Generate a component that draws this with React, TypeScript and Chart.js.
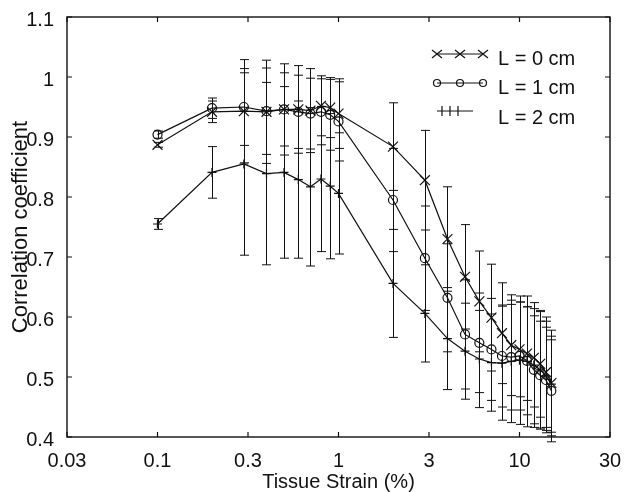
import React, { useEffect, useRef } from "react";
import { Chart, registerables } from "chart.js";

Chart.register(...registerables);

// Tissue strain (%) at which each point was measured
const STRAIN = [0.1, 0.2, 0.3, 0.4, 0.5, 0.6, 0.7, 0.8, 0.9, 1, 2, 3, 4, 5, 6, 7, 8, 9, 10, 11, 12, 13, 14, 15];

// L = 0 cm
const L0_MEAN = [0.887, 0.942, 0.943, 0.942, 0.946, 0.946, 0.944, 0.952, 0.949, 0.939, 0.884, 0.828, 0.730, 0.667, 0.626, 0.599, 0.573, 0.553, 0.546, 0.539, 0.532, 0.522, 0.508, 0.490];
const L0_ERR = [0.004, 0.018, 0.086, 0.086, 0.076, 0.073, 0.070, 0.050, 0.050, 0.058, 0.073, 0.083, 0.087, 0.087, 0.084, 0.089, 0.084, 0.084, 0.079, 0.078, 0.082, 0.089, 0.092, 0.088];

// L = 1 cm
const L1_MEAN = [0.904, 0.948, 0.950, 0.943, 0.946, 0.942, 0.939, 0.942, 0.937, 0.926, 0.795, 0.698, 0.632, 0.571, 0.557, 0.546, 0.535, 0.533, 0.535, 0.527, 0.512, 0.503, 0.495, 0.477];
const L1_ERR = [0.006, 0.017, 0.064, 0.072, 0.061, 0.061, 0.059, 0.055, 0.059, 0.066, 0.086, 0.087, 0.090, 0.091, 0.083, 0.085, 0.085, 0.088, 0.090, 0.090, 0.090, 0.090, 0.088, 0.085];

// L = 2 cm
const L2_MEAN = [0.755, 0.841, 0.855, 0.839, 0.841, 0.829, 0.817, 0.830, 0.818, 0.806, 0.656, 0.606, 0.564, 0.543, 0.530, 0.524, 0.523, 0.526, 0.528, 0.526, 0.520, 0.512, 0.502, 0.488];
const L2_ERR = [0.009, 0.043, 0.152, 0.152, 0.143, 0.131, 0.132, 0.121, 0.121, 0.101, 0.090, 0.081, 0.085, 0.080, 0.081, 0.081, 0.095, 0.102, 0.107, 0.109, 0.104, 0.097, 0.091, 0.080];

const SERIES_LABELS = ["L = 0 cm", "L = 1 cm", "L = 2 cm"];

// x ticks at half decades, labelled as in the figure
const X_TICK_EXPONENTS = [-1.5, -1, -0.5, 0, 0.5, 1, 1.5];
const X_TICK_LABELS = ["0.03", "0.1", "0.3", "1", "3", "10", "30"];
const Y_TICKS = [0.4, 0.5, 0.6, 0.7, 0.8, 0.9, 1.0, 1.1];

const X_TITLE = "Tissue Strain (%)";
const Y_TITLE = "Correlation coefficient";

const FONT = '"Liberation Sans", Arial, Helvetica, sans-serif';
const INK = "#111";

export default function App() {
  const ref = useRef<HTMLCanvasElement>(null);

  useEffect(() => {
    const canvas = ref.current;
    if (!canvas) return;
    const X_TICKS = X_TICK_EXPONENTS.map((e) => Math.pow(10, e));
    const means = [L0_MEAN, L1_MEAN, L2_MEAN];
    const errs = [L0_ERR, L1_ERR, L2_ERR];

    const errorBars = {
      id: "errorBars",
      afterDatasetsDraw(chart: any) {
        const ctx = chart.ctx;
        const xs = chart.scales.x;
        const ys = chart.scales.y;
        ctx.save();
        ctx.strokeStyle = INK;
        ctx.lineWidth = 1;
        const cap = 4.5;
        means.forEach((m, si) => {
          m.forEach((v, i) => {
            const px = Math.round(xs.getPixelForValue(STRAIN[i])) + 0.5;
            const top = ys.getPixelForValue(v + errs[si][i]);
            const bot = ys.getPixelForValue(v - errs[si][i]);
            ctx.beginPath();
            ctx.moveTo(px, top);
            ctx.lineTo(px, bot);
            ctx.moveTo(px - cap, top);
            ctx.lineTo(px + cap, top);
            ctx.moveTo(px - cap, bot);
            ctx.lineTo(px + cap, bot);
            ctx.stroke();
          });
        });
        ctx.restore();
      },
    };

    const frame = {
      id: "frame",
      afterDraw(chart: any) {
        const ctx = chart.ctx;
        const ca = chart.chartArea;
        const xs = chart.scales.x;
        const ys = chart.scales.y;
        ctx.save();
        ctx.strokeStyle = INK;
        ctx.lineWidth = 1.4;
        ctx.strokeRect(ca.left, ca.top, ca.right - ca.left, ca.bottom - ca.top);
        ctx.lineWidth = 1.2;
        const tl = 5;
        ctx.beginPath();
        X_TICKS.forEach((v) => {
          const px = xs.getPixelForValue(v);
          ctx.moveTo(px, ca.bottom);
          ctx.lineTo(px, ca.bottom - tl);
          ctx.moveTo(px, ca.top);
          ctx.lineTo(px, ca.top + tl);
        });
        Y_TICKS.forEach((v) => {
          const py = ys.getPixelForValue(v);
          ctx.moveTo(ca.left, py);
          ctx.lineTo(ca.left + tl, py);
          ctx.moveTo(ca.right, py);
          ctx.lineTo(ca.right - tl, py);
        });
        ctx.stroke();

        // legend
        const lx0 = ca.right - 173;
        const lx1 = ca.right - 127;
        const tx = ca.right - 112;
        const rows = [
          { ly: ca.top + 37, ty: ca.top + 42 },
          { ly: ca.top + 66, ty: ca.top + 71.5 },
          { ly: ca.top + 94, ty: ca.top + 101 },
        ];
        ctx.lineWidth = 1.2;
        ctx.fillStyle = INK;
        ctx.font = "20px " + FONT;
        ctx.textBaseline = "middle";
        ctx.textAlign = "left";
        rows.forEach((r, i) => {
          const end = i === 2 ? lx1 - 10 : lx1;
          ctx.beginPath();
          ctx.moveTo(lx0, r.ly);
          ctx.lineTo(end, r.ly);
          ctx.stroke();
          const marks = i === 2 ? [lx0 + 5, lx0 + 13, lx0 + 21] : [lx0, (lx0 + lx1) / 2, lx1];
          marks.forEach((mx) => {
            ctx.beginPath();
            if (i === 0) {
              ctx.moveTo(mx - 5, r.ly - 4);
              ctx.lineTo(mx + 5, r.ly + 4);
              ctx.moveTo(mx - 5, r.ly + 4);
              ctx.lineTo(mx + 5, r.ly - 4);
            } else if (i === 1) {
              ctx.arc(mx, r.ly, 3.5, 0, Math.PI * 2);
            } else {
              ctx.moveTo(mx, r.ly - 5);
              ctx.lineTo(mx, r.ly + 5);
            }
            ctx.stroke();
          });
          ctx.fillText(SERIES_LABELS[i], tx, r.ty);
        });
        ctx.restore();
      },
    };

    const common = {
      borderColor: INK,
      borderWidth: 1.2,
      pointBorderColor: INK,
      pointBackgroundColor: "rgba(0,0,0,0)",
      pointBorderWidth: 1.2,
      fill: false,
      tension: 0,
    };

    const chart = new Chart(canvas, {
      type: "line",
      data: {
        datasets: [
          { ...common, label: SERIES_LABELS[0], data: STRAIN.map((x, i) => ({ x, y: L0_MEAN[i] })), pointStyle: "crossRot", pointRadius: 7 },
          { ...common, label: SERIES_LABELS[1], data: STRAIN.map((x, i) => ({ x, y: L1_MEAN[i] })), pointStyle: "circle", pointRadius: 4.5 },
          { ...common, label: SERIES_LABELS[2], data: STRAIN.map((x, i) => ({ x, y: L2_MEAN[i] })), pointStyle: "cross", pointRadius: 4.5 },
        ],
      },
      options: {
        animation: false,
        responsive: true,
        maintainAspectRatio: false,
        events: [],
        layout: { padding: { left: 0, right: 24, top: 13, bottom: 0 } },
        plugins: { legend: { display: false }, tooltip: { enabled: false } },
        scales: {
          x: {
            type: "logarithmic",
            min: Math.pow(10, -1.5),
            max: Math.pow(10, 1.5),
            grid: { display: false },
            border: { display: false },
            afterBuildTicks: (axis: any) => {
              axis.ticks = X_TICKS.map((v) => ({ value: v }));
            },
            afterFit: (axis: any) => {
              axis.height = 55;
            },
            ticks: {
              autoSkip: false,
              maxRotation: 0,
              padding: 4,
              color: INK,
              font: { family: FONT, size: 20 },
              callback: (_v: any, i: number) => X_TICK_LABELS[i],
            },
            title: {
              display: true,
              text: X_TITLE,
              color: INK,
              font: { family: FONT, size: 20, lineHeight: 1 },
              padding: { top: -1, bottom: 0 },
            },
          },
          y: {
            type: "linear",
            min: 0.4,
            max: 1.1,
            grid: { display: false },
            border: { display: false },
            afterBuildTicks: (axis: any) => {
              axis.ticks = Y_TICKS.map((v) => ({ value: v }));
            },
            afterFit: (axis: any) => {
              axis.width = 67;
            },
            ticks: {
              padding: 5,
              labelOffset: 3,
              color: INK,
              font: { family: FONT, size: 20 },
              callback: (v: any) => String(Math.round(Number(v) * 10) / 10),
            },
            title: {
              display: true,
              text: Y_TITLE,
              color: INK,
              font: { family: FONT, size: 22, lineHeight: 1 },
              padding: { top: 10, bottom: 0 },
            },
          },
        },
      },
      plugins: [errorBars, frame],
    });
    return () => chart.destroy();
  }, []);

  return (
    <div style={{ position: "absolute", left: 0, top: 0, width: 634, height: 492, background: "#fff" }}>
      <canvas ref={ref} />
    </div>
  );
}
